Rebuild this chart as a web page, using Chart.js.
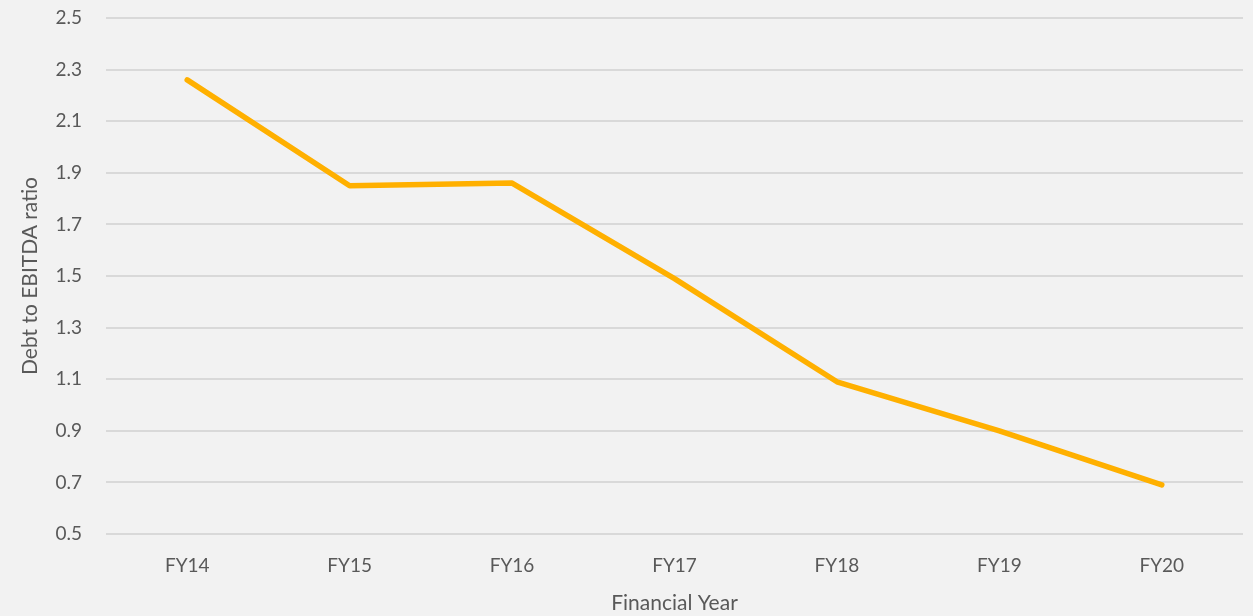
<!DOCTYPE html>
<html>
<head>
<meta charset="utf-8">
<script src="https://cdn.jsdelivr.net/npm/chart.js@4"></script>
<style>
html,body{margin:0;padding:0;background:#f2f2f2;}
#wrap{width:1253px;height:616px;position:relative;}
</style>
</head>
<body>
<div id="wrap"><canvas id="c" width="1253" height="616"></canvas></div>
<script>
const categories = ["FY14","FY15","FY16","FY17","FY18","FY19","FY20"];
const debtToEbitda = [2.26, 1.85, 1.86, 1.49, 1.09, 0.90, 0.69];
const yMin = 0.5, yMax = 2.5, yStep = 0.2;
const xTitle = "Financial Year";
const yTitle = "Debt to EBITDA ratio";

const FONT = "Lato, 'Open Sans', sans-serif";
const TXT = "#595959";

new Chart(document.getElementById('c'), {
  type: 'line',
  data: {
    labels: categories,
    datasets: [{
      data: debtToEbitda,
      borderColor: '#FFB000',
      borderWidth: 5.5,
      pointRadius: 0,
      tension: 0,
      fill: false,
      borderCapStyle: 'round',
      borderJoinStyle: 'round'
    }]
  },
  options: {
    responsive: false,
    animation: false,
    layout: { padding: { top: 18, right: 10, left: 0, bottom: 0 } },
    plugins: { legend: { display: false }, tooltip: { enabled: false } },
    scales: {
      x: {
        offset: true,
        grid: { display: false, drawTicks: false, offset: true },
        border: { display: false },
        ticks: { color: TXT, font: { family: FONT, size: 19 }, padding: 20 },
        title: { display: true, text: xTitle, color: TXT, font: { family: FONT, size: 21 }, padding: { top: 10, bottom: 0 } },
        afterFit: s => { s.height = 82; s.paddingLeft = 0; s.paddingRight = 0; }
      },
      y: {
        min: yMin, max: yMax,
        grid: { color: '#d9d9d9', lineWidth: 2, drawTicks: false },
        border: { display: false },
        ticks: { stepSize: yStep, color: TXT, font: { family: FONT, size: 19 }, padding: 24,
                 callback: v => Number(v).toFixed(1) },
        title: { display: true, text: yTitle, color: TXT, font: { family: FONT, size: 21 }, padding: { top: 18, bottom: 6 } },
        afterFit: s => { s.width = 106; s.paddingTop = 0; s.paddingBottom = 0; }
      }
    }
  }
});
</script>
</body>
</html>
